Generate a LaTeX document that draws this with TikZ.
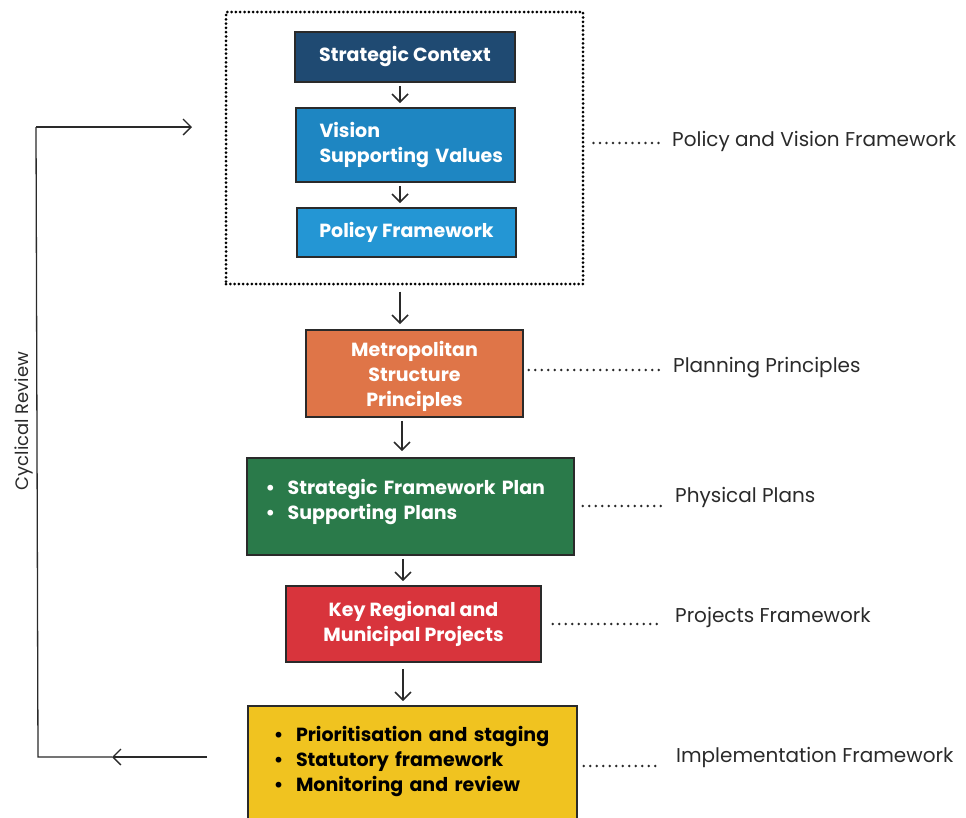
\documentclass[tikz,border=0pt]{standalone}
\usepackage{fontspec}
\setmainfont{Poppins}
\usetikzlibrary{arrows.meta}
\definecolor{cNavy}{HTML}{1F4A72}
\definecolor{cBlue}{HTML}{1E86C2}
\definecolor{cLight}{HTML}{2496D4}
\definecolor{cOrange}{HTML}{DF7548}
\definecolor{cGreen}{HTML}{2A7A4A}
\definecolor{cRed}{HTML}{D8343C}
\definecolor{cYellow}{HTML}{F0C320}
\definecolor{cEdge}{HTML}{2A2A2A}
\definecolor{cLabel}{HTML}{2A2A2A}
\tikzset{
  boxnode/.style={draw=cEdge, line width=1.6pt, inner sep=0pt, font=\fontsize{19}{25}\selectfont\bfseries, text=white},
  flowarrow/.style={-{Straight Barb[length=8pt,width=16pt,line width=1.7pt]}, line width=1.7pt, draw=cEdge},
  leader/.style={line width=2.8pt, dash pattern=on 0pt off 6.5pt, line cap=round, draw=cLabel},
  sidelabel/.style={anchor=west, inner sep=0pt, font=\fontsize{20}{24}\selectfont, text=cLabel},
  loopline/.style={line width=1.3pt, draw=cEdge},
}
\begin{document}
\begin{tikzpicture}[x=1pt,y=-1pt]
\useasboundingbox (0,0) rectangle (966,817);
% dotted frame
\node[draw=black, line width=3pt, dash pattern=on 0pt off 4.3pt, line cap=round, minimum width=357pt, minimum height=272pt, inner sep=0pt] (frame) at (404.5,148) {};
% boxes
\node[boxnode, fill=cNavy, minimum width=220pt, minimum height=50pt] (sc) at (405,57) {Strategic Context};
\node[boxnode, fill=cBlue, minimum width=219pt, minimum height=74pt, align=left, text width=210pt] (vis) at (405.5,145) {\hspace*{19pt}Vision\\\hspace*{19pt}Supporting Values};
\node[boxnode, fill=cLight, minimum width=219pt, minimum height=49pt] (pol) at (406.5,232.5) {Policy Framework};
\node[boxnode, fill=cOrange, minimum width=217pt, minimum height=87pt, align=center] (met) at (414.5,373.5) {\rule{0pt}{22pt}Metropolitan\\Structure\\Principles};
\node[boxnode, fill=cGreen, minimum width=327pt, minimum height=97pt, align=left, text width=290pt] (grn) at (410.5,506.5) {\textbullet\ \ Strategic Framework Plan\\\textbullet\ \ Supporting Plans\rule[-15pt]{0pt}{15pt}};
\node[boxnode, fill=cRed, minimum width=255pt, minimum height=76pt, align=center] (red) at (413.5,624) {Key Regional and\\Municipal Projects};
\node[boxnode, fill=cYellow, text=black, minimum width=329pt, minimum height=124pt, align=left, text width=290pt] (yel) at (412.5,768) {\ \textbullet\ \ Prioritisation and staging\\\ \textbullet\ \ Statutory framework\\\ \textbullet\ \ Monitoring and review\rule[-19pt]{0pt}{19pt}};
% flow arrows
\draw[flowarrow] ([yshift=-3pt]sc.south -| 400,0) -- ([yshift=4pt]vis.north -| 400,0);
\draw[flowarrow] ([yshift=-3pt]vis.south -| 400,0) -- ([yshift=4pt]pol.north -| 400,0);
\draw[flowarrow] ([yshift=-6pt]frame.south -| 400,0) -- ([yshift=5pt]met.north -| 400,0);
\draw[flowarrow] ([yshift=-3pt]met.south -| 402,0) -- ([yshift=6pt]grn.north -| 402,0);
\draw[flowarrow] ([yshift=-3pt]grn.south -| 403,0) -- ([yshift=4pt]red.north -| 403,0);
\draw[flowarrow] ([yshift=-6pt]red.south -| 403,0) -- ([yshift=4pt]yel.north -| 403,0);
% side labels
\node[sidelabel] (l1) at (672,141) {Policy and Vision Framework};
\node[sidelabel] (l2) at (673,368) {Planning Principles};
\node[sidelabel] (l3) at (675,497) {Physical Plans};
\node[sidelabel] (l4) at (675,617) {Projects Framework};
\node[sidelabel] (l5) at (676,757) {Implementation Framework};
\draw[leader] ([xshift=9pt]frame.east |- 0,143) -- ([xshift=-12pt]l1.west |- 0,143);
\draw[leader] ([xshift=5pt]met.east |- 0,370) -- ([xshift=-12pt]l2.west |- 0,370);
\draw[leader] ([xshift=8pt]grn.east |- 0,506) -- ([xshift=-14pt]l3.west |- 0,506);
\draw[leader] ([xshift=11pt]red.east |- 0,624) -- ([xshift=-14pt]l4.west |- 0,624);
\draw[leader] ([xshift=6pt]yel.east |- 0,766) -- ([xshift=-15pt]l5.west |- 0,766);
% cyclical review loop
\coordinate (lstart) at (207,757);
\coordinate (lmid) at (112,757);
\coordinate (lc1) at (38,757);
\coordinate (lc2) at (36,127);
\coordinate (lend) at (192,127);
\draw[loopline, -{Straight Barb[length=8pt,width=16pt,line width=1.3pt]}] (lstart) -- (lmid);
\draw[loopline] (lmid) -- (lc1) -- (lc2);
\draw[loopline, -{Straight Barb[length=8pt,width=16pt,line width=1.3pt]}] (lc2) -- (lend);
\node[rotate=90, font=\fontsize{18}{22}\selectfont, text=cLabel, inner sep=0pt] (cyc) at (24,421) {Cyclical Review};
\end{tikzpicture}
\end{document}
